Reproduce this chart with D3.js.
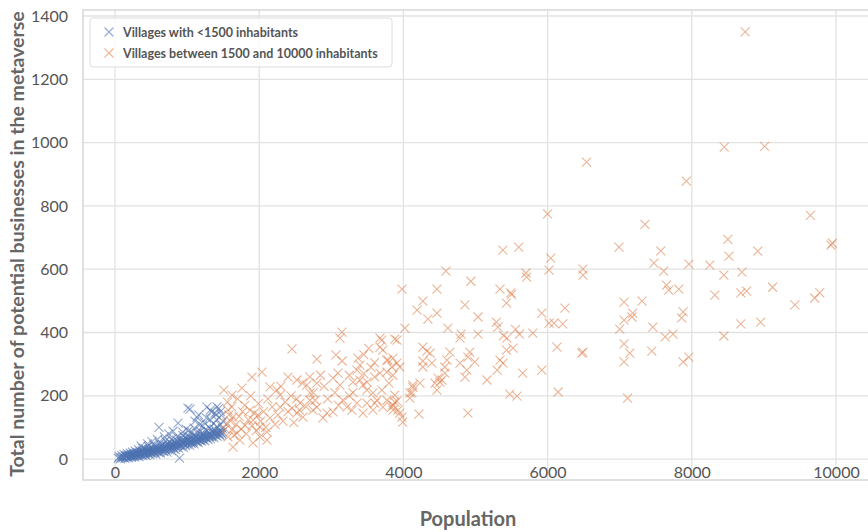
<!DOCTYPE html>
<html>
<head>
<meta charset="utf-8">
<script src="https://cdn.jsdelivr.net/npm/d3@7"></script>
<style>
  body { margin: 0; background: #ffffff; }
  text { font-family: Lato, "Open Sans", sans-serif; }
</style>
</head>
<body>
<svg id="chart" width="868" height="532"></svg>
<script>
// Axis ticks
const xTicks = [0, 2000, 4000, 6000, 8000, 10000];
const yTicks = [0, 200, 400, 600, 800, 1000, 1200, 1400];

// Series labels and colours
const seriesLabels = ["Villages with <1500 inhabitants", "Villages between 1500 and 10000 inhabitants"];
const seriesColors = ["#4c72b0", "#dd8452"];

// [population, potential businesses] for villages under 1500 inhabitants
const smallVillages = [
  [45,3],[60,8],[72,1],[85,5],[95,11],[105,4],[118,7],[125,14],[138,2],[147,9],[155,12],[162,6],[170,17],[178,10],
  [186,4],[195,13],[203,8],[210,19],[218,11],[226,6],[234,15],[241,22],[250,9],[257,13],[265,18],[272,7],[280,25],
  [288,12],[295,16],[302,10],[310,21],[318,14],[325,30],[333,8],[340,18],[348,23],[355,13],[362,42],[370,16],[378,27],
  [385,11],[392,20],[400,24],[408,15],[415,33],[422,19],[430,12],[438,26],[445,21],[452,48],[460,17],[468,29],[475,23],
  [483,14],[490,31],[498,20],[505,26],[512,55],[520,18],[528,34],[535,24],[542,28],[550,21],[557,38],[565,16],[572,30],
  [580,25],[588,62],[595,33],[602,22],[610,100],[618,28],[625,36],[632,19],[640,41],[648,31],[655,26],[662,45],[670,34],
  [678,24],[685,70],[692,38],[700,29],[708,43],[715,33],[722,22],[730,48],[738,36],[745,80],[752,30],[760,41],[768,52],
  [775,35],[782,27],[790,45],[798,39],[805,88],[812,33],[820,56],[828,42],[835,30],[842,49],[850,38],[858,60],[865,44],
  [874,114],[880,35],[888,52],[895,3],[902,46],[910,64],[918,40],[925,55],[932,48],[940,75],[948,37],[955,58],[962,50],
  [970,68],[978,43],[985,95],[992,54],[1000,47],[1008,62],[1012,161],[1020,52],[1028,72],[1035,44],[1042,57],[1050,66],
  [1058,50],[1065,85],[1072,60],[1080,53],[1088,76],[1095,48],[1102,64],[1110,120],[1118,58],[1125,70],[1132,55],
  [1140,82],[1148,63],[1155,52],[1162,140],[1170,68],[1178,60],[1185,88],[1192,66],[1200,57],[1208,75],[1215,104],
  [1222,62],[1230,80],[1238,70],[1245,58],[1252,92],[1260,67],[1268,130],[1276,164],[1283,74],[1290,62],[1298,86],
  [1305,71],[1312,98],[1320,65],[1328,78],[1335,150],[1342,70],[1350,90],[1358,82],[1365,112],[1372,68],[1380,95],
  [1387,145],[1395,76],[1402,85],[1410,125],[1418,72],[1425,100],[1432,80],[1440,160],[1448,88],[1455,74],[1462,108],
  [1470,84],[1478,138],[1485,78],[1492,96],[1498,120],
  [230,10],[260,14],[300,19],[330,17],[370,22],[410,20],[450,25],[490,24],[530,28],[570,29],[610,32],[650,35],[690,33],
  [730,40],[770,38],[810,45],[850,47],[890,44],[930,52],[970,56],[1010,58],[1050,55],[1090,63],[1130,65],[1170,61],
  [1210,70],[1250,72],[1290,75],[1330,73],[1370,80],[1410,82],[1450,79],[1490,86],[380,35],[460,40],[540,45],[620,50],
  [700,58],[780,62],[860,70],[940,85],[1020,90],[1100,98],[1180,110],[1240,115],[1320,125],[1400,140],[1460,150],
  [1137,133],[1040,158],[1414,165],[1320,155]
];

// [population, potential businesses] for villages of 1500 to 10000 inhabitants
const mediumVillages = [
  // 1500 - 2800
  [1510,218],[1530,95],[1553,114],[1560,180],[1567,155],[1567,70],[1580,140],[1600,120],[1620,165],[1622,202],[1622,92],
  [1636,133],[1636,38],[1650,75],[1680,110],[1692,82],[1700,190],[1720,135],[1733,60],[1750,95],[1760,224],[1770,150],
  [1800,170],[1803,107],[1820,80],[1850,125],[1872,155],[1880,200],[1900,259],[1900,105],[1914,123],[1914,51],
  [1930,145],[1960,90],[1983,139],[1990,175],[2010,101],[2010,70],[2020,120],[2038,275],[2060,150],[2090,100],
  [2107,85],[2108,60],[2120,190],[2150,228],[2150,130],[2180,165],[2220,110],[2245,218],[2260,140],[2290,202],
  [2290,164],[2300,230],[2330,120],[2360,180],[2400,259],[2400,150],[2440,200],[2455,348],[2455,161],[2480,115],
  [2520,190],[2523,250],[2523,145],[2560,155],[2565,177],[2600,240],[2606,133],[2650,165],[2660,234],[2700,260],
  [2704,186],[2705,209],[2745,155],[2750,210],[2775,186],[2800,316],[2800,240],[2800,164],
  // 2800 - 3900
  [2850,265],[2884,130],[2900,230],[2940,145],[2950,190],[3023,256],[3023,149],[3050,210],[3064,329],[3092,272],
  [3100,170],[3120,382],[3120,234],[3147,401],[3150,310],[3161,186],[3217,164],[3250,265],[3250,200],[3286,155],
  [3300,243],[3300,210],[3356,281],[3356,177],[3370,319],[3397,297],[3397,250],[3440,234],[3440,145],[3450,330],
  [3450,270],[3494,218],[3494,177],[3495,243],[3520,350],[3550,290],[3577,209],[3577,155],[3600,260],[3600,305],
  [3605,177],[3633,186],[3675,382],[3675,354],[3675,272],[3700,376],[3700,218],[3715,344],[3716,164],[3770,313],
  [3770,275],[3772,186],[3785,313],[3800,240],[3840,291],[3840,164],[3855,319],[3855,265],[3855,171],[3855,155],
  [3880,379],[3880,202],[3880,180],[3910,376],[3910,303],[3910,183],[3925,155],[3950,291],[3950,145],[3980,537],
  [3980,133],[3990,117],
  // 4000 - 5100
  [4020,414],[4090,209],[4090,193],[4118,209],[4130,234],[4130,227],[4190,471],[4215,142],[4230,240],[4270,499],
  [4270,354],[4270,310],[4270,291],[4325,341],[4340,442],[4370,335],[4395,303],[4437,240],[4465,537],[4465,461],
  [4465,218],[4480,256],[4506,243],[4535,250],[4575,291],[4575,272],[4590,594],[4605,313],[4617,414],[4645,338],
  [4785,382],[4785,303],[4800,395],[4853,487],[4853,259],[4880,281],[4895,322],[4895,145],[4920,338],[4936,562],
  [4990,307],[5035,449],[5035,395],
  // 5100 - 6600
  [5160,250],[5290,433],[5300,281],[5310,417],[5340,537],[5340,313],[5380,660],[5380,303],[5390,390],[5430,493],
  [5430,344],[5435,382],[5475,205],[5490,525],[5500,520],[5520,351],[5555,410],[5575,199],[5600,670],[5610,395],
  [5655,272],[5700,588],[5710,575],[5795,398],[5920,461],[5920,281],[6000,775],[6020,597],[6020,430],[6045,635],
  [6090,430],[6130,354],[6145,212],[6210,427],[6240,477],[6475,335],[6490,600],[6490,581],[6490,338],[6540,938],
  // 6900 - 10000
  [6990,670],[7000,411],[7060,496],[7060,439],[7060,364],[7060,307],[7110,193],[7140,335],[7170,449],[7180,461],
  [7310,499],[7350,742],[7445,341],[7460,417],[7475,619],[7570,658],[7610,594],[7630,386],[7650,550],[7680,534],
  [7740,395],[7820,537],[7860,446],[7880,465],[7880,307],[7925,878],[7960,616],[7960,322],[8250,613],[8320,518],
  [8445,581],[8445,389],[8450,986],[8500,694],[8515,641],[8680,525],[8680,427],[8695,591],[8740,1350],[8760,531],
  [8915,657],[8955,433],[9010,988],[9120,543],[9430,487],[9645,770],[9705,509],[9775,525],[9930,676],[9950,682]
];

const svg = d3.select("#chart");
const plot = { left: 83, top: 10, right: 868, bottom: 480 };

const x = d3.scaleLinear().domain([-444, 10444]).range([plot.left, plot.right]);
const y = d3.scaleLinear().domain([-66, 1419]).range([plot.bottom, plot.top]);

const textColor = "#555555";
const gridColor = "#e2e2e2";

// Grid
const grid = svg.append("g");
grid.selectAll("line.gx").data(xTicks).join("line")
  .attr("x1", d => x(d)).attr("x2", d => x(d))
  .attr("y1", plot.top).attr("y2", plot.bottom)
  .attr("stroke", gridColor).attr("stroke-width", 1.3);
grid.selectAll("line.gy").data(yTicks).join("line")
  .attr("x1", plot.left).attr("x2", plot.right)
  .attr("y1", d => y(d)).attr("y2", d => y(d))
  .attr("stroke", gridColor).attr("stroke-width", 1.3);

// Frame
svg.append("rect")
  .attr("x", plot.left).attr("y", plot.top)
  .attr("width", plot.right - plot.left + 2).attr("height", plot.bottom - plot.top)
  .attr("fill", "none").attr("stroke", "#d6d6d6").attr("stroke-width", 1.5);

// Axes (labels only, no tick marks)
const xAxis = svg.append("g")
  .attr("transform", `translate(0,${plot.bottom})`)
  .call(d3.axisBottom(x).tickValues(xTicks).tickSize(0).tickPadding(0).tickFormat(d3.format("d")));
xAxis.select(".domain").remove();
xAxis.selectAll("text").attr("y", 0).attr("dy", "0")
  .attr("transform", "translate(0,-2)")
  .attr("fill", textColor).style("font-size", "16px").style("font-family", "Lato, sans-serif");

const yAxis = svg.append("g")
  .attr("transform", `translate(${plot.left},0)`)
  .call(d3.axisLeft(y).tickValues(yTicks).tickSize(0).tickPadding(15).tickFormat(d3.format("d")));
yAxis.select(".domain").remove();
yAxis.selectAll("text")
  .attr("fill", textColor).style("font-size", "16px").style("font-family", "Lato, sans-serif");

// Axis titles
svg.append("text")
  .attr("x", 468).attr("y", 526)
  .attr("text-anchor", "middle")
  .attr("fill", "#666666").style("font-size", "20px").style("font-weight", "bold")
  .text("Population");
svg.append("text")
  .attr("transform", "translate(24,244) rotate(-90)")
  .attr("text-anchor", "middle")
  .attr("fill", "#666666").style("font-size", "19.5px").style("font-weight", "bold")
  .text("Total number of potential businesses in the metaverse");

// Scatter markers ('x' crosses)
const cross = "M-4.5,-4.5L4.5,4.5M-4.5,4.5L4.5,-4.5";
[smallVillages, mediumVillages].forEach((data, i) => {
  svg.append("g").selectAll("path").data(data).join("path")
    .attr("d", cross)
    .attr("transform", d => `translate(${x(d[0])},${y(d[1])})`)
    .attr("fill", "none")
    .attr("stroke", seriesColors[i])
    .attr("stroke-width", 1.1)
    .attr("stroke-opacity", 0.6);
});

// Legend
const legend = svg.append("g");
legend.append("rect")
  .attr("x", 90).attr("y", 18).attr("width", 302).attr("height", 49).attr("rx", 3)
  .attr("fill", "#ffffff").attr("fill-opacity", 0.85)
  .attr("stroke", "#dcdcdc").attr("stroke-width", 1);
seriesLabels.forEach((label, i) => {
  const cy = 32 + i * 21;
  legend.append("path")
    .attr("d", cross)
    .attr("transform", `translate(109,${cy})`)
    .attr("fill", "none").attr("stroke", seriesColors[i])
    .attr("stroke-width", 1.1).attr("stroke-opacity", 0.6);
  legend.append("text")
    .attr("x", 123).attr("y", cy + 4.5)
    .attr("fill", textColor).style("font-size", "12.5px").style("font-weight", "bold")
    .text(label);
});
</script>
</body>
</html>
